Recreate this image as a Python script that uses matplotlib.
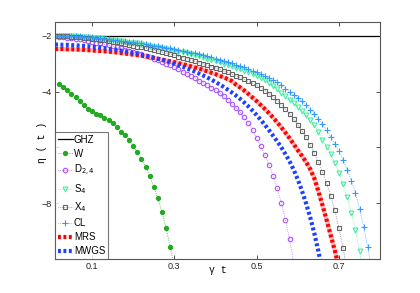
import numpy as np
import matplotlib
matplotlib.use("Agg")
import matplotlib.pyplot as plt

plt.rcParams["font.family"] = ["Liberation Sans", "DejaVu Sans"]

# sampling grid of gamma*t (step 0.01)
t = np.arange(1, 81) / 100.0

ghz_t = [0.01, 0.80]
ghz = [-2.0, -2.0]

# W state, starts at 0.02
w = [-3.72, -3.84, -3.95, -4.08, -4.20, -4.34, -4.48, -4.62, -4.71, -4.79,
     -4.84, -4.93, -5.02, -5.14, -5.26, -5.46, -5.57, -5.72, -5.94, -6.17,
     -6.43, -6.70, -7.03, -7.41, -7.83, -8.31, -8.89, -9.56, -10.3]

d24 = [-2.02, -2.03, -2.04, -2.06, -2.08, -2.10, -2.12, -2.15, -2.18, -2.21,
       -2.24, -2.27, -2.30, -2.34, -2.37, -2.41, -2.45, -2.49, -2.53, -2.57,
       -2.61, -2.66, -2.71, -2.76, -2.81, -2.87, -2.93, -2.99, -3.06, -3.13,
       -3.20, -3.28, -3.36, -3.44, -3.52, -3.61, -3.69, -3.77, -3.85, -3.94,
       -4.04, -4.16, -4.29, -4.43, -4.58, -4.74, -4.92, -5.13, -5.38, -5.66,
       -5.96, -6.27, -6.62, -7.02, -7.47, -7.98, -8.60, -9.30, -10.1]

s4 = [-2.00, -2.00, -2.00, -2.01, -2.01, -2.02, -2.03, -2.04, -2.05, -2.06,
      -2.08, -2.09, -2.11, -2.13, -2.15, -2.17, -2.19, -2.22, -2.24, -2.25,
      -2.27, -2.30, -2.32, -2.35, -2.38, -2.41, -2.44, -2.47, -2.50, -2.53,
      -2.56, -2.59, -2.63, -2.66, -2.70, -2.73, -2.77, -2.81, -2.86, -2.91,
      -2.95, -3.00, -3.04, -3.09, -3.14, -3.19, -3.25, -3.30, -3.36, -3.42,
      -3.50, -3.59, -3.69, -3.80, -3.92, -4.04, -4.16, -4.28, -4.41, -4.55,
      -4.69, -4.84, -5.00, -5.20, -5.45, -5.72, -5.97, -6.24, -6.55, -6.90,
      -7.31, -7.79, -8.34, -8.96, -9.70, -10.55]

x4 = [-2.00, -2.01, -2.01, -2.02, -2.03, -2.04, -2.05, -2.07, -2.08, -2.10,
      -2.12, -2.14, -2.16, -2.18, -2.21, -2.23, -2.26, -2.29, -2.32, -2.35,
      -2.38, -2.41, -2.44, -2.48, -2.51, -2.55, -2.58, -2.62, -2.66, -2.70,
      -2.74, -2.78, -2.82, -2.87, -2.91, -2.96, -3.00, -3.05, -3.10, -3.15,
      -3.20, -3.26, -3.31, -3.37, -3.43, -3.49, -3.56, -3.63, -3.70, -3.77,
      -3.86, -3.96, -4.07, -4.19, -4.32, -4.46, -4.62, -4.79, -4.98, -5.18,
      -5.40, -5.64, -5.91, -6.20, -6.52, -6.87, -7.27, -7.74, -8.26, -8.89,
      -9.60, -10.4]

cl = [-2.00, -2.00, -2.00, -2.01, -2.01, -2.02, -2.02, -2.03, -2.04, -2.05,
      -2.07, -2.08, -2.10, -2.11, -2.13, -2.15, -2.17, -2.19, -2.21, -2.23,
      -2.25, -2.27, -2.30, -2.32, -2.35, -2.37, -2.40, -2.42, -2.45, -2.48,
      -2.51, -2.54, -2.57, -2.60, -2.63, -2.66, -2.70, -2.73, -2.77, -2.81,
      -2.85, -2.89, -2.93, -2.98, -3.03, -3.08, -3.13, -3.19, -3.25, -3.31,
      -3.37, -3.44, -3.51, -3.59, -3.67, -3.76, -3.90, -4.00, -4.11, -4.22,
      -4.35, -4.49, -4.64, -4.80, -4.98, -5.17, -5.38, -5.61, -5.86, -6.14,
      -6.45, -6.80, -7.19, -7.64, -8.20, -8.84, -9.58, -10.4]

mrs = [-2.47, -2.47, -2.47, -2.48, -2.48, -2.49, -2.49, -2.50, -2.51, -2.52,
       -2.53, -2.54, -2.55, -2.56, -2.58, -2.59, -2.61, -2.63, -2.65, -2.67,
       -2.69, -2.71, -2.74, -2.76, -2.79, -2.82, -2.85, -2.88, -2.91, -2.94,
       -2.98, -3.01, -3.05, -3.09, -3.13, -3.17, -3.22, -3.27, -3.32, -3.37,
       -3.43, -3.49, -3.55, -3.62, -3.75, -3.85, -3.96, -4.08, -4.21, -4.34,
       -4.48, -4.62, -4.77, -4.93, -5.10, -5.28, -5.47, -5.67, -5.88, -6.10,
       -6.30, -6.52, -6.77, -7.10, -7.57, -8.07, -8.60, -9.15, -9.70, -10.3]

mwgs = [-2.31, -2.31, -2.32, -2.32, -2.33, -2.34, -2.35, -2.36, -2.37, -2.39,
        -2.40, -2.42, -2.44, -2.46, -2.48, -2.50, -2.53, -2.55, -2.58, -2.61,
        -2.64, -2.67, -2.70, -2.74, -2.78, -2.82, -2.86, -2.90, -2.95, -3.00,
        -3.05, -3.10, -3.16, -3.22, -3.28, -3.35, -3.42, -3.49, -3.57, -3.65,
        -3.74, -3.83, -3.93, -4.03, -4.14, -4.26, -4.39, -4.53, -4.68, -4.84,
        -5.01, -5.19, -5.38, -5.58, -5.78, -6.00, -6.24, -6.50, -6.80, -7.15,
        -7.55, -8.00, -8.50, -9.07, -9.72, -10.45]

fig = plt.figure(figsize=(4.2, 2.93), dpi=100)
ax = fig.add_axes([0.131, 0.116, 0.774, 0.809])

ax.plot(ghz_t, ghz, color="black", lw=0.9, label="GHZ")
ax.plot(t[1:1 + len(w)], w, ls=":", lw=0.6, color="#22aa22", marker="o",
        ms=2.8, mfc="#22aa22", mec="#22aa22", label="W")
ax.plot(t[:len(d24)], d24, ls=":", lw=0.5, color="#aa55ff", marker="o",
        ms=3.2, mfc="none", mew=0.8, label="D$_{2,4}$")
ax.plot(t[:len(s4)], s4, ls=":", lw=0.5, color="#44eea0", marker="v",
        ms=3.5, mfc="none", mew=0.8, label="S$_4$")
ax.plot(t[:len(x4)], x4, ls=":", lw=0.5, color="#666666", marker="s",
        ms=2.8, mfc="none", mew=0.8, label="X$_4$")
ax.plot(t[:len(cl)], cl, ls=":", lw=0.5, color="#3399ff", marker="+",
        ms=4.0, mew=0.8, label="CL")
ax.plot(t[:len(mrs)], mrs, ls="-", lw=3.0, color="#ffbcbc", zorder=3)
ax.plot(t[:len(mrs)], mrs, ls=(0, (0.7, 0.6)), lw=3.0, color="#ff0000",
        zorder=3, label="MRS")
ax.plot(t[:len(mwgs)], mwgs, ls=(0, (0.7, 0.6)), lw=3.0, color="#1f3fff",
        zorder=3, label="MWGS")

ax.set_xlim(0.01, 0.8)
ax.set_ylim(-10, -1.5)
ax.set_xticks([0.1, 0.3, 0.5, 0.7])
ax.set_xticklabels(["0.1", "0.3", "0.5", "0.7"])
ax.set_yticks([-8, -6, -4, -2])
ax.set_yticklabels(["\u22128", "", "\u22124", "\u22122"])
ax.tick_params(direction="in", length=3, width=0.6, labelsize=6.5,
               top=True, right=True, colors="#333333", labelcolor="#222222",
               pad=2)
for s in ax.spines.values():
    s.set_color("#555555")
    s.set_linewidth(0.8)

ax.set_xlabel("\u03b3 t", fontsize=7, family=["Liberation Mono", "DejaVu Sans"],
              labelpad=-4)
ax.set_ylabel("\u03b7 ( t )", fontsize=7, family=["Liberation Mono", "DejaVu Sans"])
ax.yaxis.set_label_coords(-0.025, 0.49)

leg = ax.legend(loc="lower left", fontsize=7, frameon=True, fancybox=False,
                borderaxespad=0, handlelength=1.5, handletextpad=0.15,
                labelspacing=0.42, borderpad=0.3, markerscale=1.0)
leg.get_frame().set_edgecolor("#555555")
leg.get_frame().set_linewidth(0.8)

fig.savefig("out.png", dpi=100)
